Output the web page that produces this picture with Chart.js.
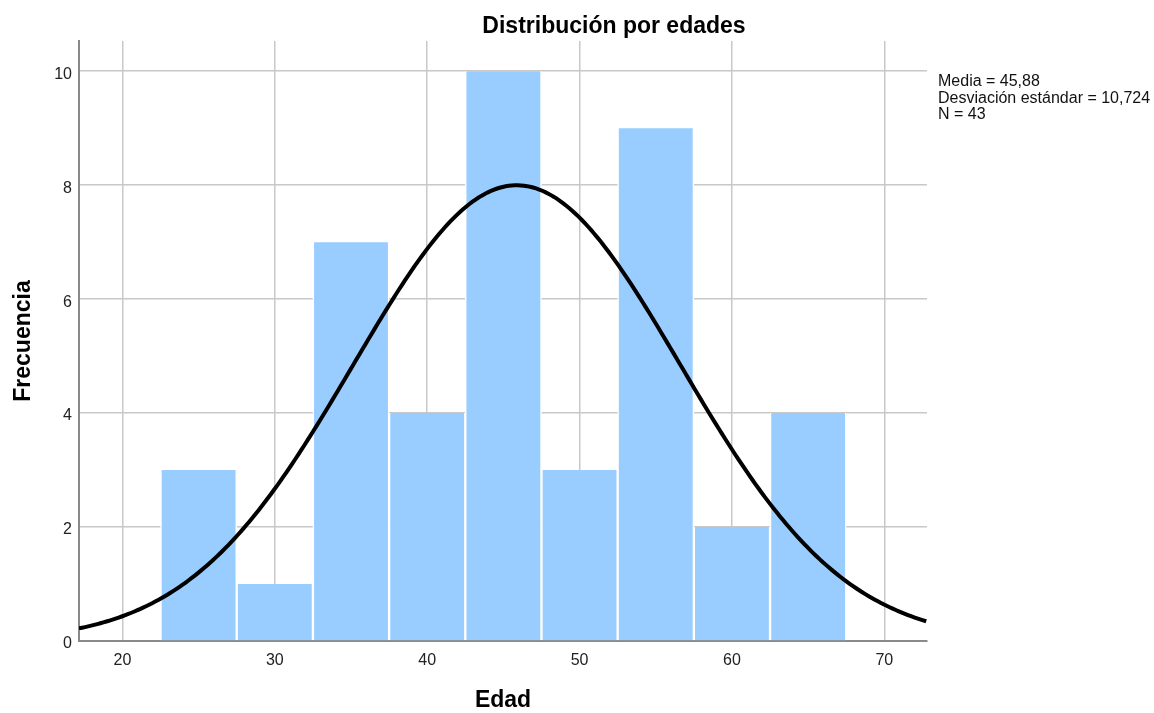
<!DOCTYPE html>
<html>
<head>
<meta charset="utf-8">
<script src="https://cdn.jsdelivr.net/npm/chart.js@4/dist/chart.umd.min.js"></script>
<style>
  html, body { margin: 0; padding: 0; background: #ffffff; }
  canvas { display: block; }
</style>
</head>
<body>
<canvas id="histograma" width="1154" height="713"></canvas>
<script>
// Histograma de edades con curva normal ajustada
const centrosIntervalo = [25, 30, 35, 40, 45, 50, 55, 60, 65];
const frecuencias = [3, 1, 7, 4, 10, 3, 9, 2, 4];
const ticksEdad = [20, 30, 40, 50, 60, 70];
const ticksFrecuencia = [0, 2, 4, 6, 8, 10];
const media = 45.88;
const desviacion = 10.724;
const nTotal = 43;
const anchoIntervalo = 5;
const edadMin = 17.15;
const edadMax = 72.8;
const titulo = 'Distribución por edades';
const estadisticos = ['Media = 45,88', 'Desviación estándar = 10,724', 'N = 43'];

const FUENTE = "'Liberation Sans', Arial, Helvetica, sans-serif";

// Curva normal escalada a frecuencias: N * ancho * densidad(media, desviación)
const curvaNormal = [];
for (let x = edadMin; x <= edadMax + 1e-9; x += 0.2) {
  const z = (x - media) / desviacion;
  const y = nTotal * anchoIntervalo * Math.exp(-0.5 * z * z) / (desviacion * Math.sqrt(2 * Math.PI));
  curvaNormal.push({ x: x, y: y });
}

const barras = centrosIntervalo.map((c, i) => ({ x: c, y: frecuencias[i] }));

const textos = {
  id: 'textos',
  afterDraw(chart) {
    const ctx = chart.ctx;
    ctx.save();
    ctx.fillStyle = '#000000';
    ctx.font = 'bold 23px ' + FUENTE;
    ctx.textAlign = 'center';
    ctx.textBaseline = 'alphabetic';
    ctx.fillText(titulo, 614, 33);
    ctx.font = '16px ' + FUENTE;
    ctx.textAlign = 'left';
    ctx.fillStyle = '#111111';
    estadisticos.forEach((t, i) => ctx.fillText(t, 938, 86 + i * 16.5));
    ctx.restore();
  }
};

new Chart(document.getElementById('histograma'), {
  type: 'bar',
  data: {
    datasets: [
      {
        type: 'line',
        data: curvaNormal,
        borderColor: '#000000',
        borderWidth: 4,
        pointRadius: 0,
        fill: false,
        tension: 0,
        order: 0
      },
      {
        type: 'bar',
        data: barras,
        backgroundColor: '#99ccff',
        borderColor: '#ffffff',
        borderWidth: { left: 1.5, right: 1.5, top: 0, bottom: 0 },
        borderSkipped: false,
        categoryPercentage: 1,
        barPercentage: 1,
        order: 1
      }
    ]
  },
  options: {
    responsive: false,
    animation: false,
    devicePixelRatio: 1,
    layout: { padding: { left: 0, top: 41, right: 227, bottom: 0 } },
    plugins: {
      legend: { display: false },
      tooltip: { enabled: false },
      title: { display: false }
    },
    scales: {
      x: {
        type: 'linear',
        min: edadMin,
        max: edadMax,
        offset: false,
        afterBuildTicks: s => { s.ticks = ticksEdad.map(v => ({ value: v })); },
        afterFit: s => { s.height = 72; },
        grid: { color: '#c8c8c8', lineWidth: 1.5, drawTicks: false, offset: false },
        border: { display: true, color: '#8a8a8a', width: 2 },
        ticks: { color: '#222222', font: { family: FUENTE, size: 16 }, padding: 10, maxRotation: 0 },
        title: { display: true, text: 'Edad', color: '#000000', font: { family: FUENTE, size: 23, weight: 'bold' }, padding: { top: 0, bottom: -1 } }
      },
      y: {
        type: 'linear',
        min: 0,
        max: 10.53,
        afterBuildTicks: s => { s.ticks = ticksFrecuencia.map(v => ({ value: v })); },
        afterFit: s => { s.width = 79; },
        grid: { color: '#c8c8c8', lineWidth: 1.5, drawTicks: false },
        border: { display: true, color: '#8a8a8a', width: 2 },
        ticks: { color: '#222222', font: { family: FUENTE, size: 16 }, padding: 7, labelOffset: 3 },
        title: { display: true, text: 'Frecuencia', color: '#000000', font: { family: FUENTE, size: 23, weight: 'bold' }, padding: { top: 10, bottom: 0 } }
      }
    }
  },
  plugins: [textos]
});
</script>
</body>
</html>
